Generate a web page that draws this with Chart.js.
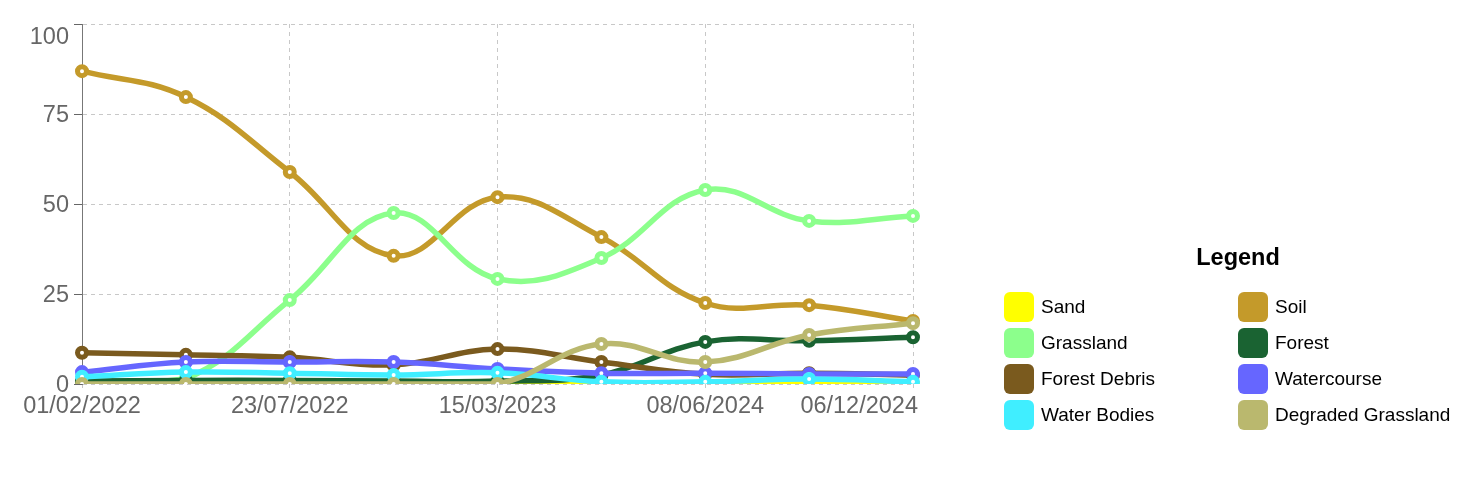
<!DOCTYPE html>
<html>
<head>
<meta charset="utf-8">
<script src="https://cdn.jsdelivr.net/npm/chart.js@4.4.1/dist/chart.umd.min.js"></script>
<style>
  html, body { margin: 0; padding: 0; background: #fff; }
  #wrap { position: relative; width: 1484px; height: 480px; overflow: hidden; }
  #c { position: absolute; left: 0; top: 0; }
  #legend { position: absolute; left: 1004px; top: 240px; width: 470px; font-family: "Liberation Sans", Arial, sans-serif; }
  #legend .title { position: absolute; left: 164px; top: 4px; width: 140px; text-align: center; font-weight: bold; font-size: 23.5px; color: #000; }
  .item { position: absolute; height: 30px; display: flex; align-items: center; font-size: 19px; color: #000; white-space: nowrap; }
  .sw { width: 30px; height: 30px; border-radius: 6px; margin-right: 7px; flex: none; }
</style>
</head>
<body>
<div id="wrap">
  <canvas id="c" width="1484" height="480"></canvas>
  <div id="legend"><div class="title">Legend</div></div>
</div>
<script>
// ---- data ----
const tickLabels = ['01/02/2022', '', '23/07/2022', '', '15/03/2023', '', '08/06/2024', '', '06/12/2024'];
const yTicks = [0, 25, 50, 75, 100];

const seriesNames = ['Sand', 'Soil', 'Grassland', 'Forest', 'Forest Debris', 'Watercourse', 'Water Bodies', 'Degraded Grassland'];
const seriesColors = ['#FFFF00', '#C49A2A', '#8CFF8C', '#1A6332', '#7A5A1E', '#6666FF', '#40EEFF', '#BAB86E'];

const sand              = [0, 0, 0, 0, 0, 0, 0, 0.3, 0];
const soil              = [86.9, 79.7, 58.9, 35.6, 51.9, 40.8, 22.5, 21.9, 17.5];
const grassland         = [0, 1.5, 23.3, 47.5, 29.2, 35, 53.9, 45.3, 46.7];
const forest            = [0.8, 1, 1, 0.8, 0.8, 2.5, 11.7, 12, 13];
const forestDebris      = [8.7, 8.1, 7.4, 5.3, 9.7, 6.1, 2.7, 3, 2.5];
const watercourse       = [3.3, 6.1, 6.1, 6.1, 4.2, 3, 3, 2.8, 2.8];
const waterBodies       = [2, 3.3, 3, 2.5, 3.1, 0.6, 0.6, 1.4, 0.6];
const degradedGrassland = [0, 0, 0, 0, 0, 11.1, 6.1, 13.6, 16.9];

const seriesValues = [sand, soil, grassland, forest, forestDebris, watercourse, waterBodies, degradedGrassland];

// ---- legend (HTML) ----
const legendEl = document.getElementById('legend');
seriesNames.forEach((name, i) => {
  const col = i % 2, row = Math.floor(i / 2);
  const d = document.createElement('div');
  d.className = 'item';
  d.style.left = (col * 234) + 'px';
  d.style.top = (52 + row * 36) + 'px';
  d.innerHTML = '<span class="sw" style="background:' + seriesColors[i] + '"></span><span>' + name + '</span>';
  legendEl.appendChild(d);
});

// ---- chart ----
const FONT = '"Liberation Sans", Arial, sans-serif';
const LABEL_SIZE = 23.5;
const CAP = 0.716 * LABEL_SIZE;

const axisLabelPlugin = {
  id: 'axisLabels',
  afterDraw(chart) {
    const xs = chart.scales.x, ys = chart.scales.y;
    const ctx = chart.ctx;
    ctx.save();
    ctx.font = LABEL_SIZE + 'px ' + FONT;
    ctx.fillStyle = '#666';
    ctx.textBaseline = 'alphabetic';
    // x labels
    ctx.textAlign = 'left';
    tickLabels.forEach((t, i) => {
      if (!t) return;
      const x = xs.getPixelForValue(i);
      const w = ctx.measureText(t).width;
      let left = x - w / 2;
      const maxRight = chart.chartArea.right + 5;
      if (left + w > maxRight) left = maxRight - w;
      ctx.fillText(t, left, chart.chartArea.bottom + 29);
    });
    // y labels
    ctx.textAlign = 'right';
    yTicks.forEach(v => {
      const y = ys.getPixelForValue(v);
      const base = Math.max(y + CAP / 2, 4 + CAP + 23);
      ctx.fillText(String(v), chart.chartArea.left - 13, base);
    });
    ctx.restore();
  }
};

const datasets = seriesNames.map((name, i) => ({
  label: name,
  data: seriesValues[i],
  borderColor: seriesColors[i],
  backgroundColor: seriesColors[i],
  pointBackgroundColor: '#fff',
  pointBorderColor: seriesColors[i],
  pointBorderWidth: 5,
  pointRadius: 4.5,
  borderWidth: 5.5,
  tension: 0.4,
  fill: false,
  order: seriesNames.length - 1 - i
}));

new Chart(document.getElementById('c'), {
  type: 'line',
  data: { labels: tickLabels.map((t, i) => t || ('p' + i)), datasets },
  plugins: [axisLabelPlugin],
  options: {
    responsive: false,
    animation: false,
    devicePixelRatio: 1,
    layout: { padding: { left: 0, top: 24, right: 571, bottom: 0 } },
    plugins: { legend: { display: false }, tooltip: { enabled: false } },
    scales: {
      x: {
        type: 'category',
        offset: false,
        ticks: { display: false },
        grid: {
          color: c => (tickLabels[c.index] && c.index > 0 ? '#c8c8c8' : 'transparent'),
          lineWidth: 1,
          borderDash: [4, 4],
          drawTicks: true,
          tickLength: 8,
          tickColor: c => (tickLabels[c.index] ? '#c8c8c8' : 'transparent'),
          tickBorderDash: [4, 4]
        },
        border: { display: false, dash: [4, 4] },
        afterFit(scale) { scale.height = 96; scale.paddingLeft = 0; scale.paddingRight = 0; }
      },
      y: {
        min: 0,
        max: 100,
        afterBuildTicks(scale) { scale.ticks = yTicks.map(v => ({ value: v })); },
        ticks: { display: false },
        grid: {
          color: '#c8c8c8',
          lineWidth: 1,
          borderDash: [4, 4],
          drawTicks: true,
          tickLength: 8,
          tickColor: '#666'
        },
        border: { display: true, color: '#777', width: 1, dash: [4, 4] },
        afterFit(scale) { scale.width = 82; scale.paddingTop = 0; scale.paddingBottom = 0; }
      }
    }
  }
});
</script>
</body>
</html>
